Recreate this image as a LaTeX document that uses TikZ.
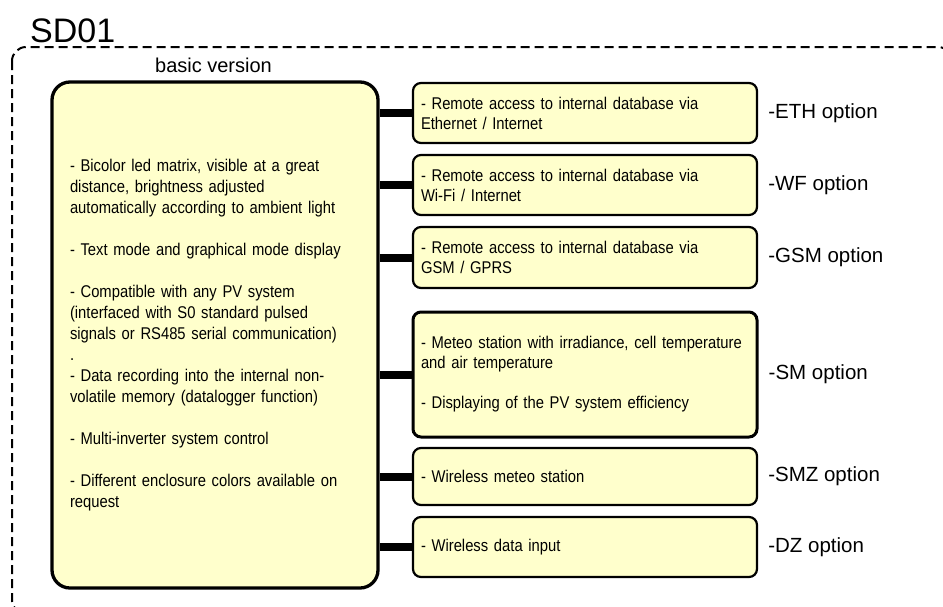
\documentclass[tikz,border=0pt]{standalone}
\usepackage{fontspec}
\setmainfont{Liberation Sans}
\newfontfamily\boxfont[FakeStretch=0.87]{Liberation Sans}
\usepackage{tikz}
\usetikzlibrary{positioning}
\definecolor{boxyellow}{HTML}{FFFFCC}
\tikzset{mframe/.style={draw,line width=2pt,rounded corners=14pt,dash pattern=on 9pt off 5pt}}
\tikzset{mbase/.style={draw,fill=boxyellow,line width=3.3pt,rounded corners=18pt,minimum width=326pt,minimum height=506pt,text width=290pt,align=left,inner sep=0pt,font=\boxfont\fontsize{17}{21}\selectfont}}
\tikzset{mopt/.style={draw,fill=boxyellow,line width=2.2pt,rounded corners=8pt,minimum width=344pt,text width=328pt,align=left,inner sep=0pt,font=\boxfont\fontsize{17}{20}\selectfont}}
\tikzset{mlink/.style={line width=8pt}}
\tikzset{mlabel/.style={inner sep=0pt,font=\fontsize{20.5}{24}\selectfont}}

\begin{document}
\begin{tikzpicture}[x=1pt,y=-1pt]
\useasboundingbox (0,0) rectangle (943,606);
\clip (0,0) rectangle (943,606);
\draw[mframe] (12,47) rectangle (952,614);
\node[anchor=base west,inner sep=0pt,font=\fontsize{34}{40}\selectfont] (title) at (30,42) {SD01};
\node[anchor=base,inner sep=0pt,font=\fontsize{20}{24}\selectfont] (basiclbl) at (213.5,72.5) {basic version};

% basic version
\node[mbase] (base) at (215,335) {- Bicolor led matrix, visible at a great\\
distance, brightness adjusted\\
automatically according to ambient light\\[21pt]
- Text mode and graphical mode display\\[21pt]
- Compatible with any PV system\\
(interfaced with S0 standard pulsed\\
signals or RS485 serial communication)\\
.\\
- Data recording into the internal non-\\
volatile memory (datalogger function)\\[21pt]
- Multi-inverter system control\\[21pt]
- Different enclosure colors available on\\
request};

% options
\node[mopt,minimum height=60pt] (eth) at (585,113) {- Remote access to internal database via\\ Ethernet / Internet};
\node[mopt,minimum height=60pt] (wf) at (585,185) {- Remote access to internal database via\\ Wi-Fi / Internet};
\node[mopt,minimum height=61pt] (gsm) at (585,257.5) {- Remote access to internal database via\\ GSM / GPRS};
\node[mopt,line width=3pt,minimum height=125pt] (sm) at (585,374.5) {- Meteo station with irradiance, cell temperature\\ and air temperature\\[20pt] - Displaying of the PV system efficiency};
\node[mopt,minimum height=57pt] (smz) at (585,476.5) {- Wireless meteo station};
\node[mopt,minimum height=60pt] (dz) at (585,547) {- Wireless data input};

\node[mlabel,right=10pt of eth] (ethlbl) {-ETH option};
\node[mlabel,right=10pt of wf] (wflbl) {-WF option};
\node[mlabel,right=10pt of gsm] (gsmlbl) {-GSM option};
\node[mlabel,right=10pt of sm] (smlbl) {-SM option};
\node[mlabel,right=10pt of smz] (smzlbl) {-SMZ option};
\node[mlabel,right=10pt of dz] (dzlbl) {-DZ option};

\foreach \o in {eth,wf,gsm,sm,smz,dz}
  \draw[mlink] (base.east |- \o.west) -- (\o.west);

\end{tikzpicture}
\end{document}
